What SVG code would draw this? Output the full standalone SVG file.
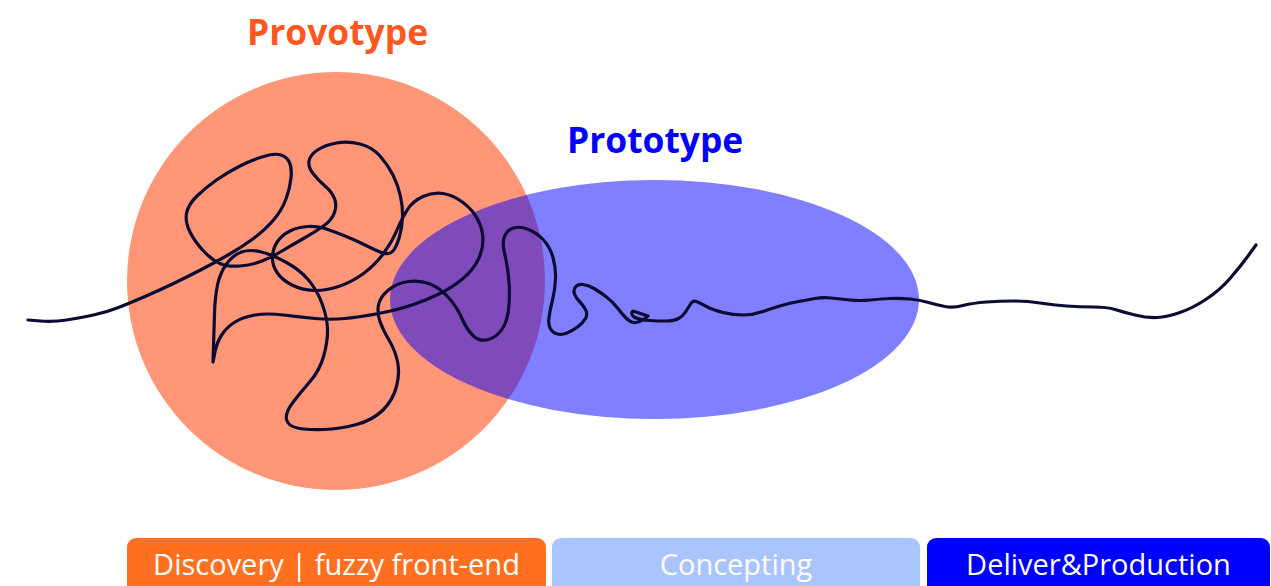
<svg xmlns="http://www.w3.org/2000/svg" width="1271" height="586" viewBox="0 0 1271 586">
<style>
.title{font-family:"Open Sans","Liberation Sans",sans-serif;font-weight:700;font-size:35.4px}
.lbl{font-family:"Open Sans","Liberation Sans",sans-serif;font-size:29px;fill:#FFFFFF;text-anchor:middle}
.line{fill:none;stroke:#0B0B33;stroke-width:3.2;stroke-linecap:round;stroke-linejoin:round}
</style>
<rect width="1271" height="586" fill="#FFFFFF"/>
<g id="provotype">
<circle cx="336" cy="281" r="209" fill="#FF9677"/>
<text class="title" x="247" y="45" fill="#FF5722">Provotype</text>
</g>
<g id="prototype">
<ellipse cx="654.5" cy="299.5" rx="264.5" ry="119.5" fill="#0000FF" fill-opacity="0.5"/>
<text class="title" x="567" y="153" fill="#0000FF">Prototype</text>
</g>
<g id="connectors">
<path class="line" d="M28,320 L40.5,321 Q53,322 66.5,320 Q80,318 93.5,315 Q107,312 118.5,307.5 Q130,303 145,296.5 Q160,290 173.5,283.5 Q187,277 200.5,270 Q214,263 228,255 Q242,247 253.5,238.5 Q265,230 273.5,220 Q282,210 286,199 Q290,188 291,178 Q292,168 289.5,162.5 Q287,157 281,155 Q275,153 263.5,156.5 Q252,160 240,166 Q228,172 216.5,180 Q205,188 196.5,196.5 Q188,205 186.5,213.5 Q185,222 190,232 Q195,242 203.5,251 Q212,260 220,263.5 Q228,267 240,266 Q252,265 262,261 Q272,257 282,251 Q292,245 303.5,238.5 Q315,232 323.5,226 Q332,220 334.5,212.5 Q337,205 334.5,198.5 Q332,192 325,186 Q318,180 313,173.5 Q308,167 309,161 Q310,155 317.5,150 Q325,145 336.5,143 Q348,141 360,144 Q372,147 380,156 Q388,165 393,175 Q398,185 400.5,196.5 Q403,208 402.5,218 Q402,228 399.5,236.5 Q397,245 394.5,249 Q392,253 388.5,253.5 Q385,254 380,252 Q375,250 365,245 Q355,240 345,236 Q335,232 326.5,229 Q318,226 308,226.5 Q298,227 290,231 Q282,235 277.5,241.5 Q273,248 272.5,256.5 Q272,265 277,272.5 Q282,280 292,285 Q302,290 313.5,290.5 Q325,291 338.5,286.5 Q352,282 363.5,273.5 Q375,265 383.5,253.5 Q392,242 397,230 Q402,218 407.5,209.5 Q413,201 423,196.5 Q433,192 443,193.5 Q453,195 463,202.5 Q473,210 478,220 Q483,230 483,240 Q483,250 478,260 Q473,270 463,278.5 Q453,287 440,293.5 Q427,300 412,305 Q397,310 378.5,313.5 Q360,317 345,318.5 Q330,320 315,318.5 Q300,317 283.5,315 Q267,313 255,315 Q243,317 235,322 Q227,327 222,334.5 Q217,342 215,352 L213,362 L213.5,346 Q214,330 214.5,313.5 Q215,297 217.5,285 Q220,273 226.5,264 Q233,255 241.5,252 Q250,249 261.5,252 Q273,255 286.5,262.5 Q300,270 308.5,280 Q317,290 322,303.5 Q327,317 327.5,328.5 Q328,340 324,355 Q320,370 310,381.5 Q300,393 292.5,403 Q285,413 286.5,419.5 Q288,426 297.5,428 Q307,430 323.5,429.5 Q340,429 356.5,424.5 Q373,420 383,410 Q393,400 396.5,386.5 Q400,373 397.5,361.5 Q395,350 389,340 Q383,330 380,321.5 Q377,313 378.5,305 Q380,297 388.5,290 Q397,283 408.5,281.5 Q420,280 430,284 Q440,288 448.5,297.5 Q457,307 462,318.5 Q467,330 473.5,336 Q480,342 488.5,339.5 Q497,337 502.5,328.5 Q508,320 509,305 Q510,290 508.5,276.5 Q507,263 504.5,253 Q502,243 504.5,236.5 Q507,230 513.5,228 Q520,226 528.5,229.5 Q537,233 543.5,240 Q550,247 553,257.5 Q556,268 555.5,279 Q555,290 552.5,300 Q550,310 549,317.5 Q548,325 550.5,329 Q553,333 557.5,334 Q562,335 567,333 Q572,331 577.5,327 Q583,323 585.5,318.5 Q588,314 585.5,309.5 Q583,305 579.5,301.5 Q576,298 574.5,294 Q573,290 575.5,287 Q578,284 583,284.5 Q588,285 594,288.5 Q600,292 606.5,297 Q613,302 617.5,308 Q622,314 626,318 Q630,322 634,322.5 Q638,323 643,320 L648,316 L633,311 Q630,313 634,317 Q640,320 650,320.5 Q658,321 666,321 Q674,321 678.5,318.5 Q683,316 685.5,312 Q688,308 690.5,304 Q693,300 696.5,301.5 Q700,303 706.5,306.5 Q713,310 723,312.5 Q733,315 743,315 Q753,315 763,311.5 Q773,308 781.5,305.5 Q790,303 798.5,301.5 Q807,300 815,298.5 Q823,297 831.5,298 Q840,299 850,300 Q860,301 870,300 Q880,299 890,298.5 Q900,298 910,299 Q920,300 928.5,302.5 Q937,305 945,306.5 Q953,308 963,305.5 Q973,303 986.5,302 Q1000,301 1013.5,301 Q1027,301 1040,303 Q1053,305 1066.5,306 Q1080,307 1093.5,307 Q1107,307 1115,309.5 Q1123,312 1135,315 Q1147,318 1157,317.5 Q1167,317 1180,312.5 Q1193,308 1206.5,299 Q1220,290 1230,278.5 Q1240,267 1248,256 L1256,245"/>
</g>
<g id="discovery">
<rect x="127" y="538" width="419" height="64" rx="9" fill="#FF7020"/>
<text class="lbl" x="336.5" y="575">Discovery | fuzzy front-end</text>
</g>
<g id="concepting">
<rect x="552" y="538" width="368" height="64" rx="9" fill="#AAC4FF"/>
<text class="lbl" x="736" y="575">Concepting</text>
</g>
<g id="deliver">
<rect x="927" y="538" width="343" height="64" rx="9" fill="#0000FF"/>
<text class="lbl" x="1098.5" y="575">Deliver&amp;Production</text>
</g>
</svg>
